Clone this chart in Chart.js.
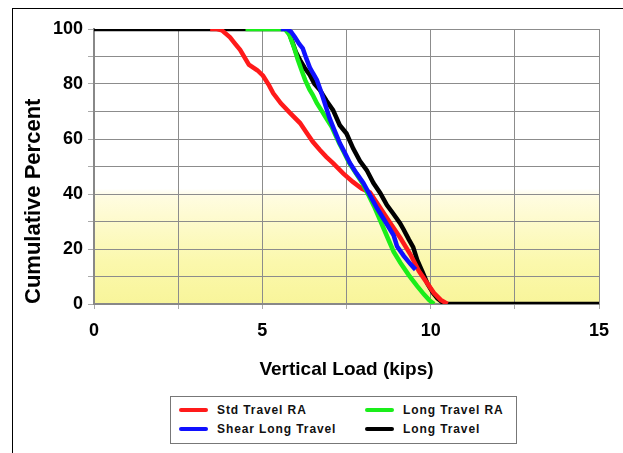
<!DOCTYPE html>
<html>
<head>
<meta charset="utf-8">
<script src="https://cdn.jsdelivr.net/npm/chart.js@4"></script>
<style>
  html, body { margin: 0; padding: 0; background: #fff; }
  #wrap { position: relative; width: 623px; height: 453px; overflow: hidden; }
  #frame { position: absolute; left: 12px; top: 8px; right: -2px; bottom: -2px;
           border-left: 1.5px solid #000; border-top: 1.5px solid #000; }
  #legend { position: absolute; left: 170px; top: 396px; width: 345px; height: 46px;
            border: 1px solid #777; background: #fff;
            font: bold 12px "Liberation Sans", Arial, sans-serif; letter-spacing: 0.9px; color: #111; }
  .item { position: absolute; height: 16px; line-height: 16px; }
  .item i { position: absolute; left: 0; top: 6px; width: 29px; height: 4px; border-radius: 2px; }
  .item span { position: absolute; left: 38px; white-space: nowrap; }
</style>
</head>
<body>
<div id="wrap">
  <div id="frame"></div>
  <canvas id="chart"></canvas>
  <div id="legend"></div>
</div>
<script>
Chart.defaults.font.family = "Liberation Sans";

// Std Travel RA
const redX = [3.45, 3.65, 3.8, 4.04, 4.2, 4.34, 4.6, 4.85, 5.02, 5.2, 5.32, 5.55, 5.82, 6.12, 6.33, 6.5, 6.71, 6.9, 7.1, 7.4, 7.69, 7.95, 8.2, 8.5, 8.8, 9.1, 9.4, 9.65, 9.9, 10.1, 10.3, 10.5];
const redY = [100, 100, 99.5, 97, 94.5, 92.4, 87, 85, 83, 79.5, 76.7, 73, 69.5, 65.8, 62, 59, 56, 53.5, 51.2, 47.5, 44.4, 42, 40.5, 35, 29.5, 24, 18, 12, 7.5, 4, 1.5, 0];
// Long Travel RA
const greenX = [4.5, 5.67, 5.8, 5.95, 6.05, 6.15, 6.27, 6.4, 6.5, 6.62, 6.75, 6.9, 7.06, 7.28, 7.43, 7.58, 7.78, 7.97, 8.16, 8.34, 8.48, 8.62, 8.76, 8.9, 9.1, 9.35, 9.6, 9.8, 9.95, 10.1];
const greenY = [100, 100, 98, 93, 89, 85.5, 81.5, 78, 76, 73, 70.5, 67.5, 64.4, 58.5, 55, 51.3, 47.5, 44, 39.5, 35, 31, 27, 23, 19, 15, 10.5, 6.5, 3.5, 1.5, 0];
// Shear Long Travel
const blueX = [5.55, 5.73, 5.85, 5.97, 6.1, 6.2, 6.3, 6.41, 6.5, 6.62, 6.75, 6.92, 7.0, 7.1, 7.3, 7.45, 7.6, 7.8, 8.0, 8.2, 8.4, 8.6, 8.8, 8.9, 9.0, 9.2, 9.4, 9.55];
const blueY = [100, 100, 99, 97, 94.5, 93, 89.5, 86, 84, 81.5, 77, 70.5, 67.5, 64.4, 58.5, 55, 51.3, 47.5, 44, 39.5, 35, 31, 27, 25, 21, 17.5, 14.5, 12.5];
// Long Travel
const blackX = [0, 5.75, 5.9, 6.0, 6.12, 6.25, 6.41, 6.55, 6.71, 6.9, 7.1, 7.3, 7.5, 7.7, 7.9, 8.1, 8.3, 8.5, 8.7, 8.88, 9.09, 9.2, 9.35, 9.48, 9.6, 9.77, 9.9, 10.07, 10.2, 10.37, 10.45, 15];
const blackY = [100, 100, 95, 91.5, 88.7, 86, 83.3, 80, 77.8, 74, 70.5, 65, 62, 56.5, 52, 48.7, 44, 40.4, 36, 33, 29.4, 27, 23.5, 20.7, 16, 11.3, 7.5, 4, 2, 0.4, 0, 0];

const seriesNames = ["Std Travel RA", "Long Travel RA", "Shear Long Travel", "Long Travel"];
const seriesColors = ["#ff1a1a", "#1aee1a", "#1010ff", "#000000"];
const xTicks = [0, 5, 10, 15];
const yTicks = [0, 20, 40, 60, 80, 100];

function pts(xs, ys) {
    return xs.map((x, i) => ({x: x, y: ys[i]}));
}

const allData = [pts(redX, redY), pts(greenX, greenY), pts(blueX, blueY), pts(blackX, blackY)];
// lowest number is drawn on top: blue, green, red, black
const drawOrder = [2, 1, 0, 3];

const bgPlugin = {
    id: "bg",
    beforeDraw(chart) {
        const {ctx, chartArea: a, scales} = chart;
        const y = scales.y;
        const g = ctx.createLinearGradient(0, a.top, 0, a.bottom);
        const f = v => (y.getPixelForValue(v) - a.top) / (a.bottom - a.top);
        g.addColorStop(0, "#ffffff");
        g.addColorStop(f(42), "#ffffff");
        g.addColorStop(f(39), "#fffce0");
        g.addColorStop(f(15), "#fbf8ac");
        g.addColorStop(1, "#f8f59a");
        ctx.save();
        ctx.fillStyle = g;
        ctx.fillRect(a.left, a.top, a.right - a.left, a.bottom - a.top);
        ctx.restore();
    }
};

new Chart(document.getElementById("chart"), {
    type: "line",
    data: {
        datasets: seriesNames.map((name, i) => ({
            label: name,
            data: allData[i],
            borderColor: seriesColors[i],
            backgroundColor: seriesColors[i],
            borderWidth: 4.5,
            pointRadius: 0,
            tension: 0,
            fill: false,
            order: drawOrder[i]
        }))
    },
    options: {
        responsive: true,
        maintainAspectRatio: false,
        animation: false,
        layout: { padding: { top: 29, right: 24, left: 0, bottom: 0 } },
        scales: {
            x: {
                type: "linear",
                min: 0,
                max: 15,
                afterFit: s => { s.height = 149; },
                ticks: {
                    stepSize: 2.5,
                    autoSkip: false,
                    maxRotation: 0,
                    padding: 11,
                    color: "#000",
                    font: { size: 18, weight: "bold" },
                    callback: v => xTicks.includes(v) ? v : ""
                },
                grid: { color: "#8c8c8c", lineWidth: 1, tickLength: 5, tickColor: "#aaa" },
                border: { color: "#888", width: 2 },
                title: {
                    display: true,
                    text: "Vertical Load (kips)",
                    color: "#000",
                    font: { size: 19, weight: "bold" },
                    padding: { top: 0, bottom: 72 }
                }
            },
            y: {
                min: 0,
                max: 100,
                afterFit: s => { s.width = 94; },
                ticks: {
                    stepSize: 10,
                    autoSkip: false,
                    padding: 5,
                    color: "#000",
                    font: { size: 18, weight: "bold" },
                    callback: v => yTicks.includes(v) ? v : ""
                },
                grid: { color: "#8c8c8c", lineWidth: 1, tickLength: 6, tickColor: "#aaa" },
                border: { color: "#888", width: 2 },
                title: {
                    display: true,
                    text: "Cumulative Percent",
                    align: "start",
                    color: "#000",
                    font: { size: 22, weight: "bold" },
                    padding: { top: 21, bottom: 0 }
                }
            }
        },
        plugins: {
            legend: { display: false },
            tooltip: { enabled: false }
        }
    },
    plugins: [bgPlugin]
});

// legend box, two columns like the original
const legend = document.getElementById("legend");
const spots = [[8, 5], [194, 5], [8, 24], [194, 24]];
const legendOrder = [0, 1, 2, 3];
legendOrder.forEach((k, i) => {
    const el = document.createElement("div");
    el.className = "item";
    el.style.left = spots[i][0] + "px";
    el.style.top = spots[i][1] + "px";
    el.innerHTML = '<i style="background:' + seriesColors[k] + '"></i><span>' + seriesNames[k] + "</span>";
    legend.appendChild(el);
});
</script>
</body>
</html>
